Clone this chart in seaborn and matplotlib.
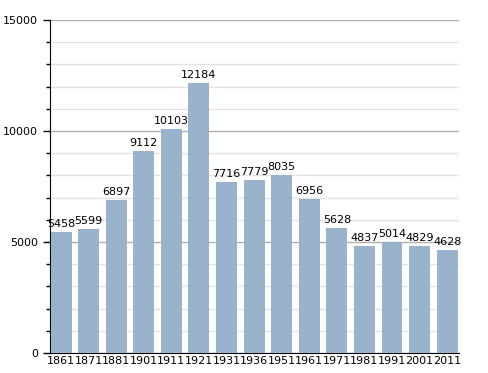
import numpy as np
import pandas as pd
import matplotlib
matplotlib.use("Agg")
import matplotlib.pyplot as plt
from matplotlib.ticker import MultipleLocator
import seaborn as sns

years = ["1861", "1871", "1881", "1901", "1911", "1921", "1931", "1936",
         "1951", "1961", "1971", "1981", "1991", "2001", "2011"]
population = [5458, 5599, 6897, 9112, 10103, 12184, 7716, 7779,
              8035, 6956, 5628, 4837, 5014, 4829, 4628]

df = pd.DataFrame({"year": years, "pop": population})

sns.set_style("white")
plt.rcParams["font.family"] = ["DejaVu Sans"]
plt.rcParams["text.color"] = "black"
plt.rcParams["xtick.color"] = "black"
plt.rcParams["ytick.color"] = "black"

fig = plt.figure(figsize=(4.88, 3.73), dpi=100)
ax = fig.add_axes([50 / 488, 20 / 373, (459 - 50) / 488, (353 - 20) / 373])

sns.barplot(data=df, x="year", y="pop", color="#99b3cc", saturation=1,
            width=0.76, linewidth=0, edgecolor="none", ax=ax, zorder=3)

for i, v in enumerate(population):
    ax.text(i, v + 130, str(v), ha="center", va="bottom", fontsize=8,
            color="black", zorder=4)

ax.set_ylim(0, 15000)
ax.set_xlim(-0.4, len(years) - 0.57)
ax.yaxis.set_major_locator(MultipleLocator(5000))
ax.yaxis.set_minor_locator(MultipleLocator(1000))
ax.grid(axis="y", which="major", color="#b0b0b0", linewidth=1, zorder=0)
ax.grid(axis="y", which="minor", color="#e3e3e3", linewidth=1, zorder=0)
ax.set_axisbelow(True)

for s in ["top", "right"]:
    ax.spines[s].set_visible(False)
ax.spines["left"].set_color("black")
ax.spines["bottom"].set_color("black")

ax.tick_params(axis="y", which="major", direction="out", length=5, width=1,
               color="black", labelsize=8, left=True, labelcolor="black")
ax.tick_params(axis="y", which="minor", direction="out", length=3, width=1,
               color="black", left=True)
ax.tick_params(axis="x", length=0, labelsize=8, pad=2, labelcolor="black")
ax.set_xlabel("")
ax.set_ylabel("")

fig.savefig("out.png", dpi=100)
